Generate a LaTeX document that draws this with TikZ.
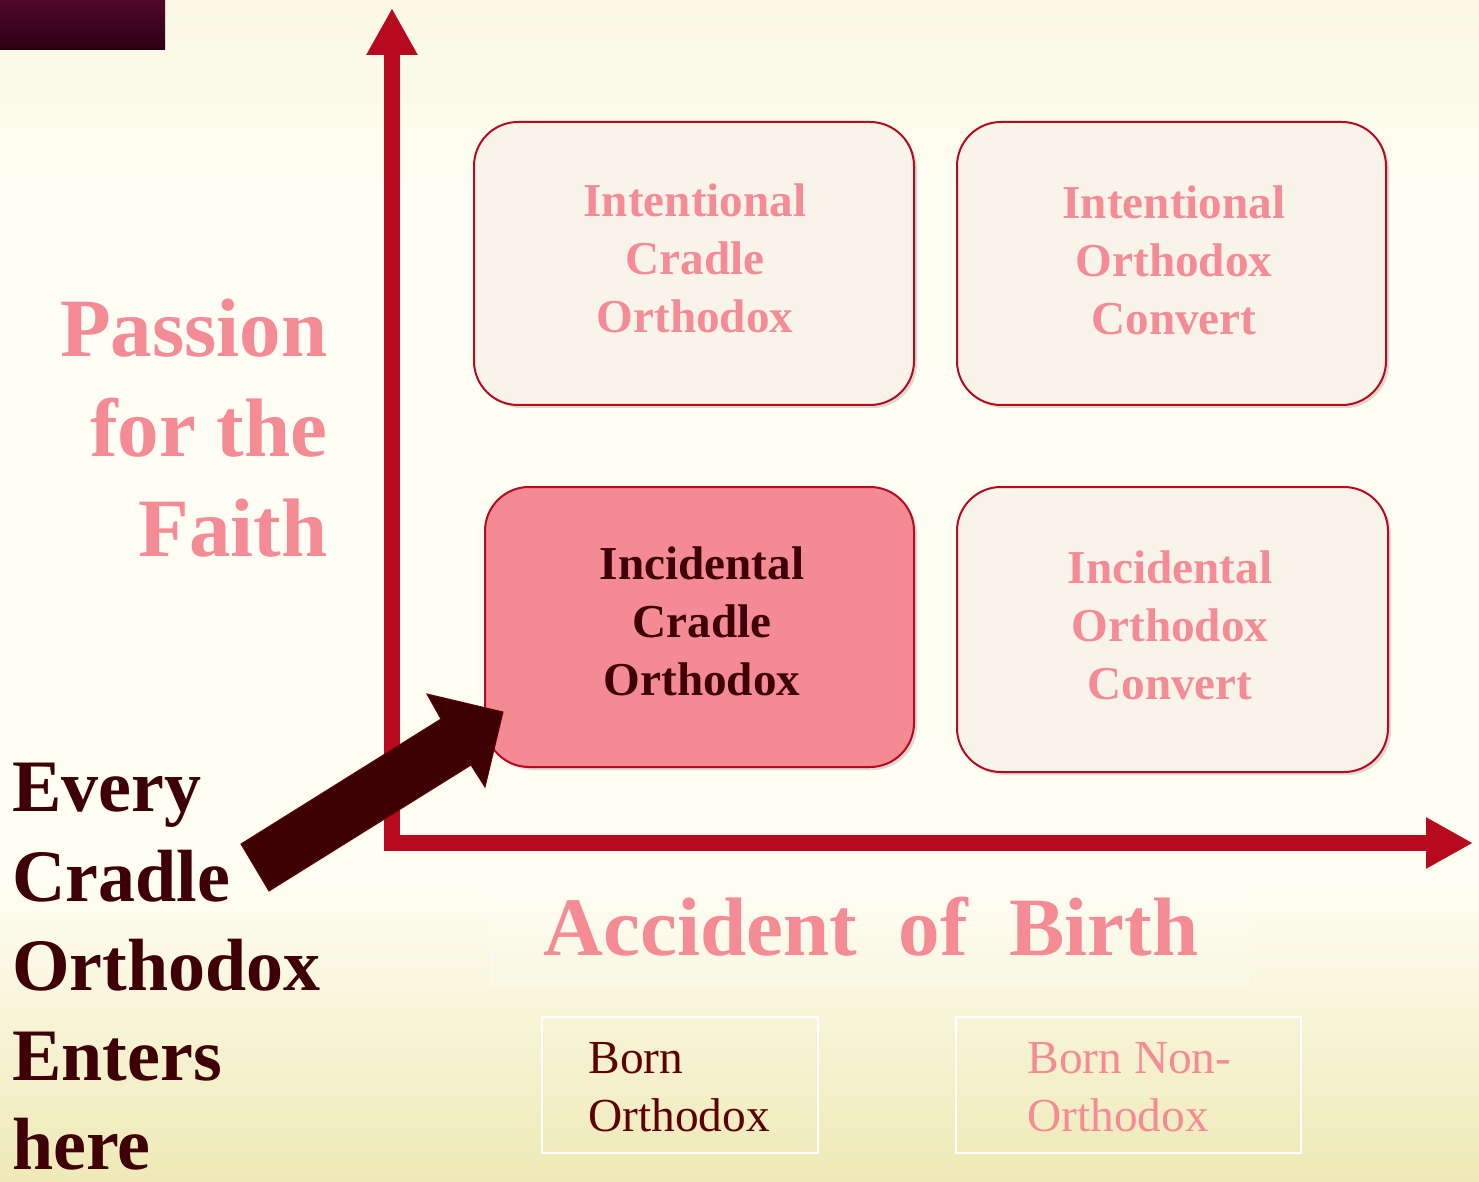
\documentclass[tikz,border=0pt]{standalone}
\usepackage{fontspec}
\setmainfont{Liberation Serif}
\usetikzlibrary{shadows,arrows.meta}
\definecolor{bgmid}{HTML}{FEFEF3}
\definecolor{bgtop}{HTML}{FAF8E3}
\definecolor{bgbot}{HTML}{EFE9B6}
\definecolor{axisred}{HTML}{B80A1E}
\definecolor{pinktext}{HTML}{F58B95}
\definecolor{creamfill}{HTML}{F9F4EA}
\definecolor{pinkfill}{HTML}{F48A93}
\definecolor{darktext}{HTML}{3E0006}
\definecolor{arrowfill}{HTML}{3D0003}
\definecolor{bornmaroon}{HTML}{5E0000}
\definecolor{blocktop}{HTML}{50082A}
\definecolor{blockbot}{HTML}{2C0012}
\newcommand\qfont{\fontsize{23.6}{29}\selectfont\bfseries}
\newcommand\bigfont{\fontsize{41.5}{50}\selectfont\bfseries}
\newcommand\everyfont{\fontsize{37}{44.75}\selectfont\bfseries}
\newcommand\bornfont{\fontsize{23.7}{29}\selectfont}
\tikzset{
  quad/.style={draw=axisred, line width=1pt, rounded corners=22pt, inner sep=0pt,
    drop shadow={opacity=0.28, shadow xshift=1.5pt, shadow yshift=-1.5pt}},
  lightquad/.style={quad, fill=creamfill},
  hotquad/.style={quad, fill=pinkfill},
  qtext/.style={align=center, font=\qfont, inner sep=0pt},
  axisline/.style={draw=axisred, line width=8pt, line join=miter,
    {Triangle[length=23.5pt, width=24pt]}-{Triangle[length=23.5pt, width=24pt]}},
  faintbox/.style={draw=white!85!bgmid, draw opacity=0.35, line width=0.5pt, fill=white, fill opacity=0.15},
  labelbox/.style={draw=white, line width=0.8pt},
}
\begin{document}
\begin{tikzpicture}[x=0.5pt,y=-0.5pt]
\useasboundingbox (0,0) rectangle (1479,1182);
% background
\fill[bgmid] (0,0) rectangle (1479,1182);
\shade[top color=bgtop, bottom color=bgmid] (0,0) rectangle (1479,200);
\shade[top color=bgmid, bottom color=bgbot] (0,880) rectangle (1479,1182);
% dark corner block
\shade[top color=blocktop, bottom color=blockbot] (0,0) rectangle (165,50);
% faint boxes
\draw[faintbox] (38,280) rectangle (352,585);
\draw[faintbox] (491,863) rectangle (1248,984);
% axes
\coordinate (corner) at (392,843);
\coordinate (ytip) at (392,8);
\coordinate (xtip) at (1473,843);
\draw[axisline] (ytip) -- (corner) -- (xtip);
% quadrants
\node[lightquad, minimum width=220pt, minimum height=141.5pt] (tl) at (694,263.5) {};
\node[lightquad, minimum width=214.5pt, minimum height=141.5pt] (tr) at (1171.5,263.5) {};
\node[hotquad, minimum width=214.5pt, minimum height=140pt] (bl) at (699.5,627) {};
\node[lightquad, minimum width=215.5pt, minimum height=142.5pt] (br) at (1172.5,629.5) {};
\node[qtext, text=pinktext] (tlt) at (695,258.5) {Intentional\\Cradle\\Orthodox};
\node[qtext, text=pinktext] (trt) at (1174,260) {Intentional\\Orthodox\\Convert};
\node[qtext, text=darktext] (blt) at (702,621.5) {Incidental\\Cradle\\Orthodox};
\node[qtext, text=pinktext] (brt) at (1170,625.5) {Incidental\\Orthodox\\Convert};
% axis labels
\node[align=right, anchor=east, inner sep=0pt, font=\bigfont, text=pinktext] (passion) at (328,428) {Passion\\for the\\Faith};
\node[anchor=base, inner sep=0pt, font=\bigfont, text=pinktext] (accident) at (871,955) {Accident~~of~~Birth};
% born labels
\draw[labelbox] (542,1017) rectangle (818,1153);
\draw[labelbox] (956,1017) rectangle (1301,1153);
\node[align=left, anchor=west, inner sep=0pt, font=\bornfont, text=bornmaroon] (born) at (588,1087) {Born\\Orthodox};
\node[align=left, anchor=west, inner sep=0pt, font=\bornfont, text=pinktext] (bornnon) at (1027,1087) {Born Non-\\Orthodox};
% every cradle text
\node[align=left, anchor=west, inner sep=0pt, font=\everyfont, text=darktext] (every) at (12,967) {Every\\Cradle\\Orthodox\\Enters\\here};
% big arrow
\coordinate (t1) at (241,844);
\coordinate (t2) at (269,891);
\coordinate (nr) at (471,765);
\coordinate (br2) at (485,787);
\coordinate (tip) at (503,712);
\coordinate (bl2) at (427,694);
\coordinate (nl) at (441,719);
\filldraw[fill=arrowfill, draw=arrowfill!80!red, line width=0.5pt, line join=miter]
  (t1) -- (nl) -- (bl2) -- (tip) -- (br2) -- (nr) -- (t2) -- cycle;
\end{tikzpicture}
\end{document}
